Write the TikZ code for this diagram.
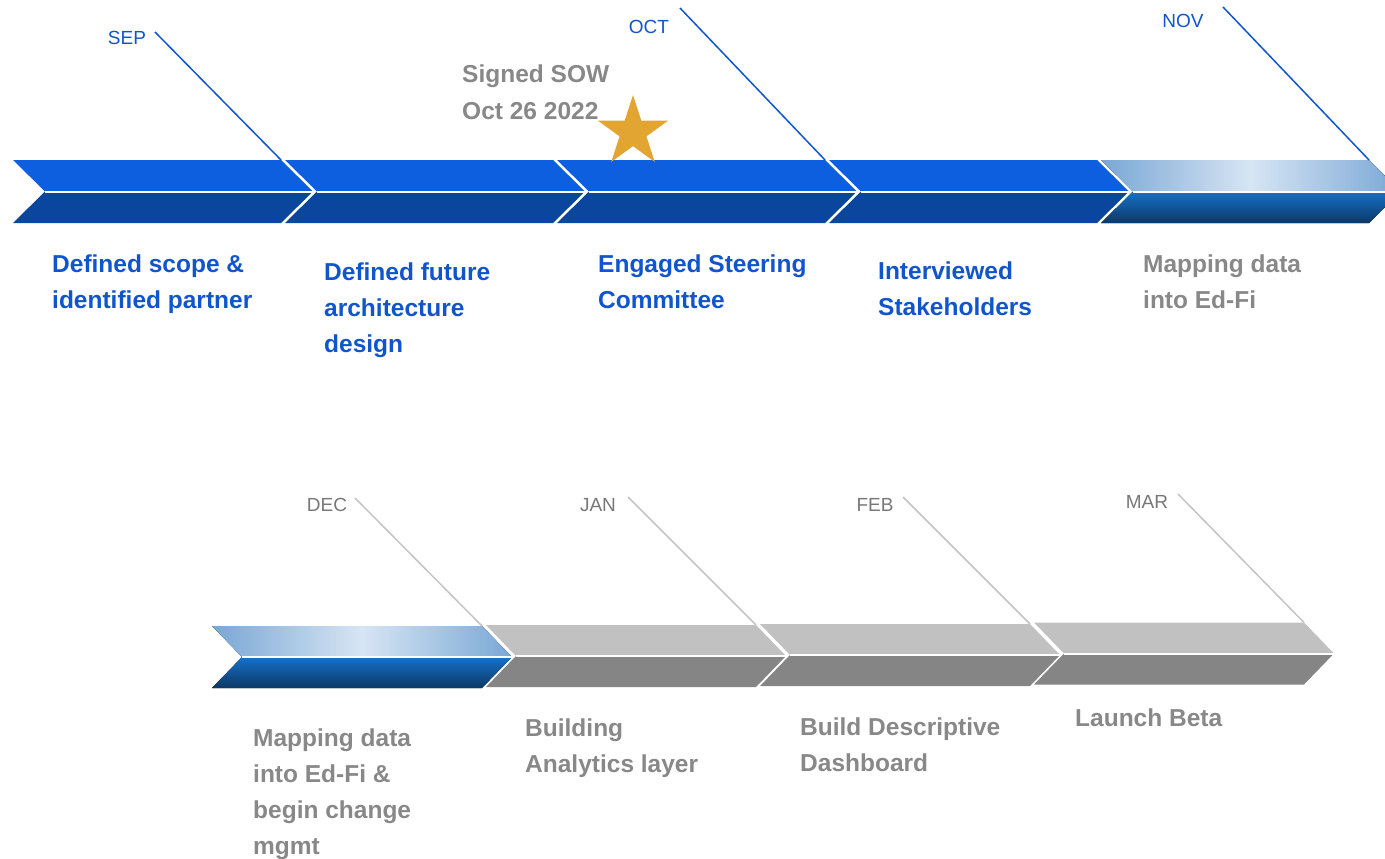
\documentclass[tikz,border=0pt]{standalone}
\usepackage{fontspec}
\setmainfont{Liberation Sans}
\usetikzlibrary{shapes.geometric}
\definecolor{bluetxt}{HTML}{1155CC}
\definecolor{graytxt}{HTML}{888888}
\definecolor{graymon}{HTML}{777777}
\definecolor{grayline}{HTML}{C4C4C4}
\definecolor{bluetopc}{HTML}{0E5FDF}
\definecolor{bluebotc}{HTML}{0A459E}
\definecolor{graytopc}{HTML}{C1C1C1}
\definecolor{graybotc}{HTML}{858585}
\definecolor{gedge}{HTML}{79A7D5}
\definecolor{gmid}{HTML}{D7E5F4}
\definecolor{gbtop}{HTML}{1671C8}
\definecolor{gbbot}{HTML}{0C3866}
\definecolor{starcol}{HTML}{E3A531}
\newcommand{\chev}[8]{%
  \fill[#7] (#2,#3) -- (#2+#4,#3) -- (#2+#4+#5,#3+#6) -- (#2+#5,#3+#6) -- cycle;
  \fill[#8] (#2+#5,#3+#6) -- (#2+#4+#5,#3+#6) -- (#2+#4,#3+2*#6) -- (#2,#3+2*#6) -- cycle;
  \draw[white, line width=2pt] (#2+#5,#3+#6) -- (#2+#4+#5,#3+#6);
  \coordinate (#1) at (#2+#4,#3);
}
\begin{document}
\begin{tikzpicture}[x=1pt,y=-1pt,
  bluetop/.style={fill=bluetopc},
  bluebot/.style={fill=bluebotc},
  graytop/.style={fill=graytopc},
  graybot/.style={fill=graybotc},
  gradtop/.style={left color=gedge,right color=gedge,middle color=gmid},
  gradbot/.style={top color=gbtop,bottom color=gbbot},
  mon/.style={anchor=base, inner sep=0pt, font=\fontsize{19}{22}\selectfont},
  head/.style={anchor=base west, inner sep=0pt, font=\fontsize{24.5}{36}\selectfont\bfseries},
  bline/.style={draw=bluetxt, line width=1.5pt},
  gline/.style={draw=grayline, line width=1.5pt}]
\useasboundingbox (0,0) rectangle (1385,859);
% top row
\chev{s1}{13}{160}{268}{32}{31.5}{bluetop}{bluebot}
\chev{s2}{285}{160}{268}{32}{31.5}{bluetop}{bluebot}
\chev{s3}{557}{160}{268}{32}{31.5}{bluetop}{bluebot}
\chev{s4}{829}{160}{268}{32}{31.5}{bluetop}{bluebot}
\chev{s5}{1101}{160}{268}{32}{31.5}{gradtop}{gradbot}
% bottom row
\chev{s6}{212}{626}{270}{30}{31}{gradtop}{gradbot}
\chev{s7}{486}{625}{270}{30}{31}{graytop}{graybot}
\chev{s8}{760}{624}{270}{30}{31}{graytop}{graybot}
\chev{s9}{1034}{622.5}{270}{30}{31}{graytop}{graybot}
% month labels
\node[mon, text=bluetxt] (sep) at (127,45) {SEP};
\node[mon, text=bluetxt] (oct) at (649,34) {OCT};
\node[mon, text=bluetxt] (nov) at (1183,28) {NOV};
\node[mon, text=graymon] (dec) at (327,511) {DEC};
\node[mon, text=graymon] (jan) at (598,511) {JAN};
\node[mon, text=graymon] (feb) at (875,511) {FEB};
\node[mon, text=graymon] (mar) at (1147,508) {MAR};
\coordinate (sepA) at (155,32);
\coordinate (octA) at (680,8);
\coordinate (novA) at (1223,7);
\coordinate (decA) at (355,498);
\coordinate (janA) at (628,497);
\coordinate (febA) at (903,497);
\coordinate (marA) at (1178,494);
\draw[bline] (sepA) -- (s1);
\draw[bline] (octA) -- (s3);
\draw[bline] (novA) -- (s5);
\draw[gline] (decA) -- (s6);
\draw[gline] (janA) -- (s7);
\draw[gline] (febA) -- (s8);
\draw[gline] (marA) -- (s9);
% star and SOW
\node[star, star points=5, star point ratio=2.618, fill=starcol, minimum size=74pt, inner sep=0pt] (sowstar) at (633,132) {};
\node[head, text=graytxt] (sow) at (462,83) {\vtop{\hbox{Signed SOW}\hbox{Oct 26 2022}}};
% headings top
\node[head, text=bluetxt] (t1) at (52,272) {\vtop{\hbox{Defined scope \&}\hbox{identified partner}}};
\node[head, text=bluetxt] (t2) at (324,280) {\vtop{\hbox{Defined future}\hbox{architecture}\hbox{design}}};
\node[head, text=bluetxt] (t3) at (598,272) {\vtop{\hbox{Engaged Steering}\hbox{Committee}}};
\node[head, text=bluetxt] (t4) at (878,279) {\vtop{\hbox{Interviewed}\hbox{Stakeholders}}};
\node[head, text=graytxt] (t5) at (1143,272) {\vtop{\hbox{Mapping data}\hbox{into Ed-Fi}}};
% headings bottom
\node[head, text=graytxt] (t6) at (253,746) {\vtop{\hbox{Mapping data}\hbox{into Ed-Fi \&}\hbox{begin change}\hbox{mgmt}}};
\node[head, text=graytxt] (t7) at (525,736) {\vtop{\hbox{Building}\hbox{Analytics layer}}};
\node[head, text=graytxt] (t8) at (800,735) {\vtop{\hbox{Build Descriptive}\hbox{Dashboard}}};
\node[head, text=graytxt] (t9) at (1075,726) {Launch Beta};
\end{tikzpicture}
\end{document}
